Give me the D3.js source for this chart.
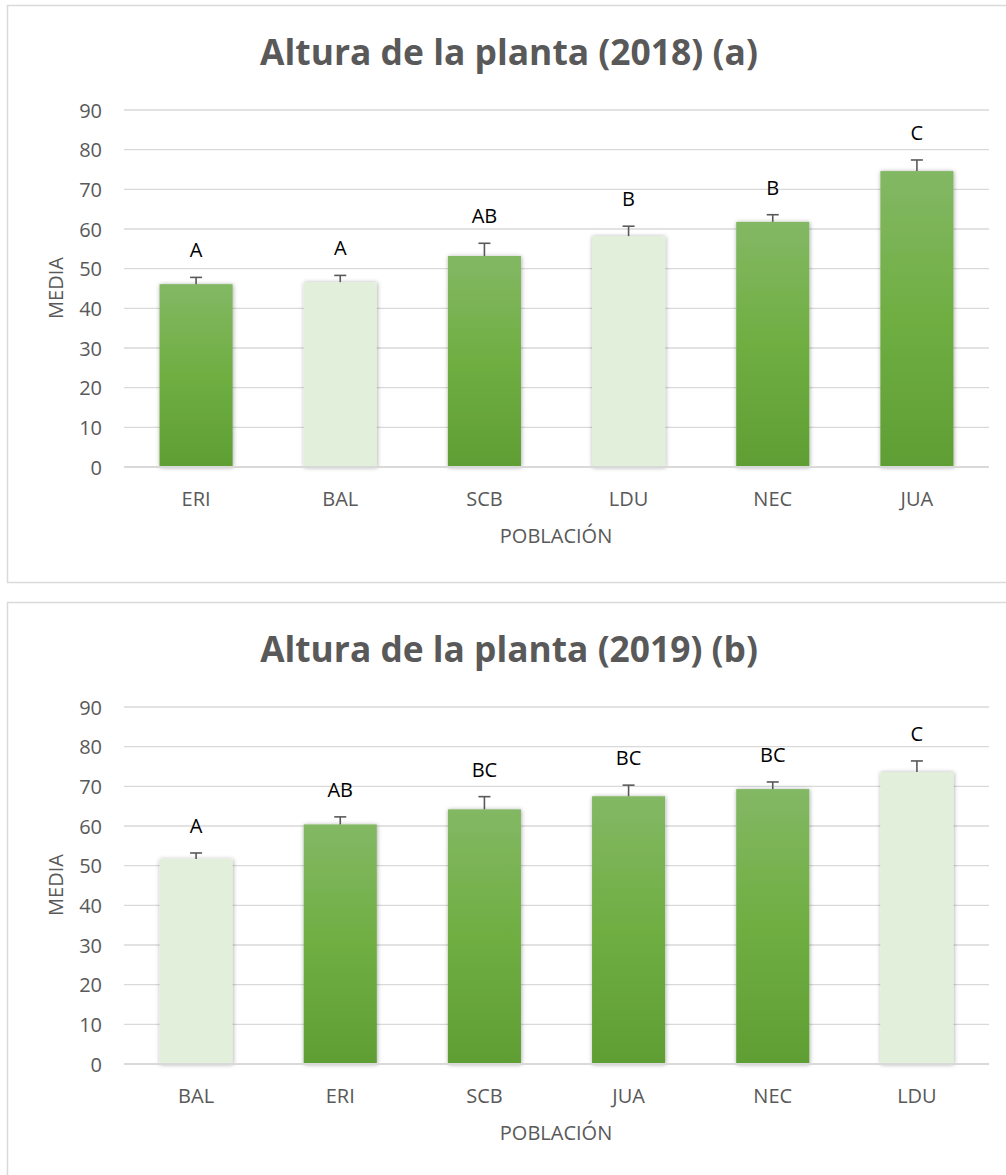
<!DOCTYPE html>
<html><head><meta charset="utf-8">
<script src="https://cdnjs.cloudflare.com/ajax/libs/d3/7.8.5/d3.min.js"></script>
<style>body{margin:0;background:#fff;} svg{display:block;}</style>
</head><body>
<svg id="c" width="1006" height="1175"></svg>
<script>
// ---- data ----
const titles = ["Altura de la planta (2018) (a)", "Altura de la planta (2019) (b)"];
const cats2018 = ["ERI","BAL","SCB","LDU","NEC","JUA"];
const vals2018 = [46.1, 46.6, 53.2, 58.2, 61.8, 74.6];
const errs2018 = [1.7, 1.7, 3.2, 2.5, 1.8, 2.8];
const letters2018 = ["A","A","AB","B","B","C"];
const light2018 = [false, true, false, true, false, false];

const cats2019 = ["BAL","ERI","SCB","JUA","NEC","LDU"];
const vals2019 = [51.7, 60.4, 64.2, 67.5, 69.3, 73.6];
const errs2019 = [1.5, 1.9, 3.2, 2.8, 1.8, 2.8];
const letters2019 = ["A","AB","BC","BC","BC","C"];
const light2019 = [true, false, false, false, false, true];

const yTicks = [0,10,20,30,40,50,60,70,80,90];
const xTitle = "POBLACIÓN";
const yTitle = "MEDIA";

// ---- drawing ----
const svg = d3.select("#c");
const FONT = "'Open Sans', sans-serif";
const defs = svg.append("defs");
const grad = defs.append("linearGradient").attr("id","gdark").attr("x1",0).attr("y1",0).attr("x2",0).attr("y2",1);
grad.append("stop").attr("offset","0%").attr("stop-color","#83b864");
grad.append("stop").attr("offset","50%").attr("stop-color","#6fae42");
grad.append("stop").attr("offset","100%").attr("stop-color","#5f9e33");
const sh = defs.append("filter").attr("id","shadow").attr("x","-20%").attr("y","-10%").attr("width","140%").attr("height","120%");
sh.append("feDropShadow").attr("dx",0.5).attr("dy",0.5).attr("stdDeviation",2).attr("flood-color","#000").attr("flood-opacity",0.35);

function drawChart(oy, title, cats, vals, errs, letters, light){
  const g = svg.append("g").attr("transform",`translate(0,${oy})`);
  g.append("rect").attr("x",7.5).attr("y",0.5).attr("width",1010).attr("height",577)
    .attr("fill","#fff").attr("stroke","#d9d9d9").attr("stroke-width",1.5);

  const x = d3.scaleBand().domain(cats).range([124,989]).paddingInner(0.493).paddingOuter(0.2465);
  const y = d3.scaleLinear().domain([0,90]).range([462,105]);

  // title
  const t = g.append("text").attr("x",509).attr("y",60).attr("text-anchor","middle")
    .attr("font-family",FONT).attr("font-weight","bold").attr("font-size",36).attr("fill","#595959").text(title);
  const w = t.node().getComputedTextLength();
  t.attr("font-size", 36*498/w);

  // gridlines
  const ya = d3.axisLeft(y).tickValues(yTicks).tickSize(0).tickPadding(0);
  const gy = g.append("g").attr("transform","translate(102,0)").call(ya);
  gy.select(".domain").remove();
  gy.selectAll("text").attr("font-family",FONT).attr("font-size",20).attr("fill","#595959").attr("dy","0.35em");
  g.append("g").selectAll("line").data(yTicks.filter(d=>d>0)).join("line")
    .attr("x1",124).attr("x2",989).attr("y1",d=>y(d)).attr("y2",d=>y(d))
    .attr("stroke","#d9d9d9").attr("stroke-width",1.3);

  // bars
  const data = cats.map((c,i)=>({c, v:vals[i], e:errs[i], l:letters[i], light:light[i]}));
  g.append("g").selectAll("rect").data(data).join("rect")
    .attr("x",d=>x(d.c)).attr("width",x.bandwidth())
    .attr("y",d=>y(d.v)).attr("height",d=>y(0)-y(d.v))
    .attr("fill",d=>d.light?"#e2efda":"url(#gdark)")
    .attr("filter","url(#shadow)");

  // axis line
  g.append("line").attr("x1",124).attr("x2",989).attr("y1",y(0)).attr("y2",y(0))
    .attr("stroke","#d9d9d9").attr("stroke-width",2);

  // error bars
  const eg = g.append("g").attr("stroke","#595959").attr("stroke-width",1.6);
  eg.selectAll("line.v").data(data).join("line").attr("class","v")
    .attr("x1",d=>x(d.c)+x.bandwidth()/2).attr("x2",d=>x(d.c)+x.bandwidth()/2)
    .attr("y1",d=>y(d.v)).attr("y2",d=>y(d.v+d.e));
  eg.selectAll("line.c").data(data).join("line").attr("class","c")
    .attr("x1",d=>x(d.c)+x.bandwidth()/2-6).attr("x2",d=>x(d.c)+x.bandwidth()/2+6)
    .attr("y1",d=>y(d.v+d.e)).attr("y2",d=>y(d.v+d.e));

  // letters
  g.append("g").selectAll("text").data(data).join("text")
    .attr("x",d=>x(d.c)+x.bandwidth()/2).attr("y",d=>y(d.v+d.e)-20)
    .attr("text-anchor","middle").attr("font-family",FONT).attr("font-size",20).attr("fill","#000")
    .text(d=>d.l);

  // x axis labels
  const xa = d3.axisBottom(x).tickSize(0).tickPadding(0);
  const gx = g.append("g").attr("transform",`translate(0,${y(0)})`).call(xa);
  gx.select(".domain").remove();
  gx.selectAll("text").attr("font-family",FONT).attr("font-size",20).attr("fill","#595959")
    .attr("dy",null).attr("y",39);

  g.append("text").attr("x",556).attr("y",538).attr("text-anchor","middle")
    .attr("font-family",FONT).attr("font-size",20).attr("fill","#595959").text(xTitle);
  g.append("text").attr("transform",`translate(63,283) rotate(-90)`).attr("text-anchor","middle")
    .attr("font-family",FONT).attr("font-size",20).attr("fill","#595959").text(yTitle);
}

drawChart(5, titles[0], cats2018, vals2018, errs2018, letters2018, light2018);
drawChart(602, titles[1], cats2019, vals2019, errs2019, letters2019, light2019);
</script>
</body></html>
